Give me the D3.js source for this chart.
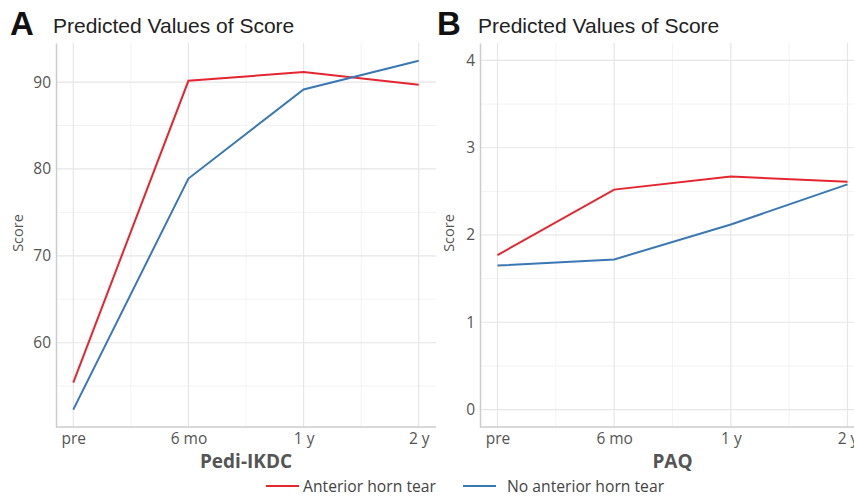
<!DOCTYPE html>
<html>
<head>
<meta charset="utf-8">
<script src="https://cdn.jsdelivr.net/npm/d3@7"></script>
<style>
  body { margin: 0; background: #fff; }
  svg { display: block; }
</style>
</head>
<body>
<div id="chart"></div>
<script>
// Data
const timepoints = ['pre', '6 mo', '1 y', '2 y'];
const seriesNames = ['Anterior horn tear', 'No anterior horn tear'];
const seriesColors = ['#e32630', '#3a78b4'];

const ikdcTear = [55.4, 90.15, 91.15, 89.7];
const ikdcNoTear = [52.3, 78.9, 89.15, 92.45];
const ikdcTicks = [60, 70, 80, 90];

const paqTear = [1.77, 2.52, 2.67, 2.61];
const paqNoTear = [1.65, 1.72, 2.12, 2.58];
const paqTicks = [0, 1, 2, 3, 4];

const width = 854;
const height = 496;

const svg = d3.select('#chart').append('svg')
    .attr('width', width)
    .attr('height', height);

// Panel setup
const panels = [
    { letter: 'A', xLetter: 10, xTitle: 53, left: 56, right: 436, label: 'Pedi-IKDC',
      series: [ikdcTear, ikdcNoTear], ticks: ikdcTicks, domain: [50.3, 94.5], scoreX: 18 },
    { letter: 'B', xLetter: 437, xTitle: 478, left: 480, right: 865, label: 'PAQ',
      series: [paqTear, paqNoTear], ticks: paqTicks, domain: [-0.2, 4.2], scoreX: 449 }
];
const plotTop = 43;
const plotBottom = 427;

panels.forEach((p, i) => {
    const g = svg.append('g');

    // Discrete x positions with a small padding at each end
    const x = d3.scalePoint()
        .domain(timepoints)
        .range([p.left, p.right])
        .padding(0.15);

    const y = d3.scaleLinear()
        .domain(p.domain)
        .range([plotBottom, plotTop]);

    const clipId = 'clip' + i;
    svg.append('clipPath').attr('id', clipId)
        .append('rect')
        .attr('x', p.left).attr('y', plotTop)
        .attr('width', p.right - p.left).attr('height', plotBottom - plotTop);

    const grid = g.append('g').attr('clip-path', 'url(#' + clipId + ')');

    // Minor grid
    const step = x.step();
    const minorX = timepoints.slice(0, -1).map(t => x(t) + step / 2);
    grid.selectAll('.minorx').data(minorX).enter().append('line')
        .attr('x1', d => d).attr('x2', d => d)
        .attr('y1', plotTop).attr('y2', plotBottom)
        .attr('stroke', '#f3f3f3').attr('stroke-width', 1);
    const tickStep = p.ticks[1] - p.ticks[0];
    const minorY = [p.ticks[0] - tickStep / 2].concat(p.ticks.map(t => t + tickStep / 2))
        .filter(v => v > p.domain[0] && v < p.domain[1]);
    grid.selectAll('.minory').data(minorY).enter().append('line')
        .attr('x1', p.left).attr('x2', p.right)
        .attr('y1', d => y(d)).attr('y2', d => y(d))
        .attr('stroke', '#f3f3f3').attr('stroke-width', 1);

    // Major grid
    grid.selectAll('.majorx').data(timepoints).enter().append('line')
        .attr('x1', d => x(d)).attr('x2', d => x(d))
        .attr('y1', plotTop).attr('y2', plotBottom)
        .attr('stroke', '#e6e6e6').attr('stroke-width', 1.2);
    grid.selectAll('.majory').data(p.ticks).enter().append('line')
        .attr('x1', p.left).attr('x2', p.right)
        .attr('y1', d => y(d)).attr('y2', d => y(d))
        .attr('stroke', '#e6e6e6').attr('stroke-width', 1.2);

    // Lines
    const line = d3.line()
        .x((d, j) => x(timepoints[j]))
        .y(d => y(d));
    grid.selectAll('.series').data(p.series).enter().append('path')
        .attr('d', d => line(d))
        .attr('fill', 'none')
        .attr('stroke', (d, j) => seriesColors[j])
        .attr('stroke-width', 2);

    // Axes
    const yAxis = g.append('g')
        .attr('transform', 'translate(' + p.left + ',0)')
        .call(d3.axisLeft(y).tickValues(p.ticks).tickFormat(d3.format('d')).tickSize(0).tickPadding(5));
    const xAxis = g.append('g')
        .attr('transform', 'translate(0,' + plotBottom + ')')
        .call(d3.axisBottom(x).tickSize(0).tickPadding(6));
    [xAxis, yAxis].forEach(a => {
        a.select('.domain').attr('stroke', '#cccccc').attr('stroke-width', 1.5);
        a.selectAll('text')
            .attr('fill', '#555')
            .style('font-family', '"Open Sans", sans-serif')
            .style('font-size', '15.5px');
    });
    xAxis.select('.domain').attr('d', 'M' + p.left + ',0H' + Math.min(p.right, width));

    // Axis titles
    g.append('text')
        .attr('x', (p.left + p.right) / 2)
        .attr('y', 468)
        .attr('text-anchor', 'middle')
        .attr('fill', '#555')
        .style('font-family', '"Open Sans", sans-serif')
        .style('font-weight', 'bold')
        .style('font-size', '19px')
        .text(p.label);

    g.append('text')
        .attr('transform', 'translate(' + (p.scoreX + 5) + ',' + ((plotTop + plotBottom) / 2 - 2) + ') rotate(-90)')
        .attr('text-anchor', 'middle')
        .attr('fill', '#555')
        .style('font-family', '"Open Sans", sans-serif')
        .style('font-size', '14.5px')
        .text('Score');

    // Panel letter and title
    g.append('text')
        .attr('x', p.xLetter).attr('y', 35)
        .style('font-family', '"Liberation Sans", Arial, sans-serif')
        .style('font-weight', 'bold')
        .style('font-size', '33px')
        .attr('fill', '#111')
        .text(p.letter);
    g.append('text')
        .attr('x', p.xTitle).attr('y', 33)
        .style('font-family', '"Liberation Sans", Arial, sans-serif')
        .style('font-size', '21px')
        .attr('fill', '#222')
        .text('Predicted Values of Score');
});

// Legend
const legendX = [266, 463];
const legend = svg.append('g');
seriesNames.forEach((name, i) => {
    legend.append('line')
        .attr('x1', legendX[i]).attr('x2', legendX[i] + 33)
        .attr('y1', 486).attr('y2', 486)
        .attr('stroke', seriesColors[i]).attr('stroke-width', 2);
    legend.append('text')
        .attr('x', legendX[i] + (i === 0 ? 37 : 44))
        .attr('y', 492)
        .attr('fill', '#444')
        .style('font-family', '"Open Sans", sans-serif')
        .style('font-size', '15.7px')
        .text(name);
});
</script>
</body>
</html>
